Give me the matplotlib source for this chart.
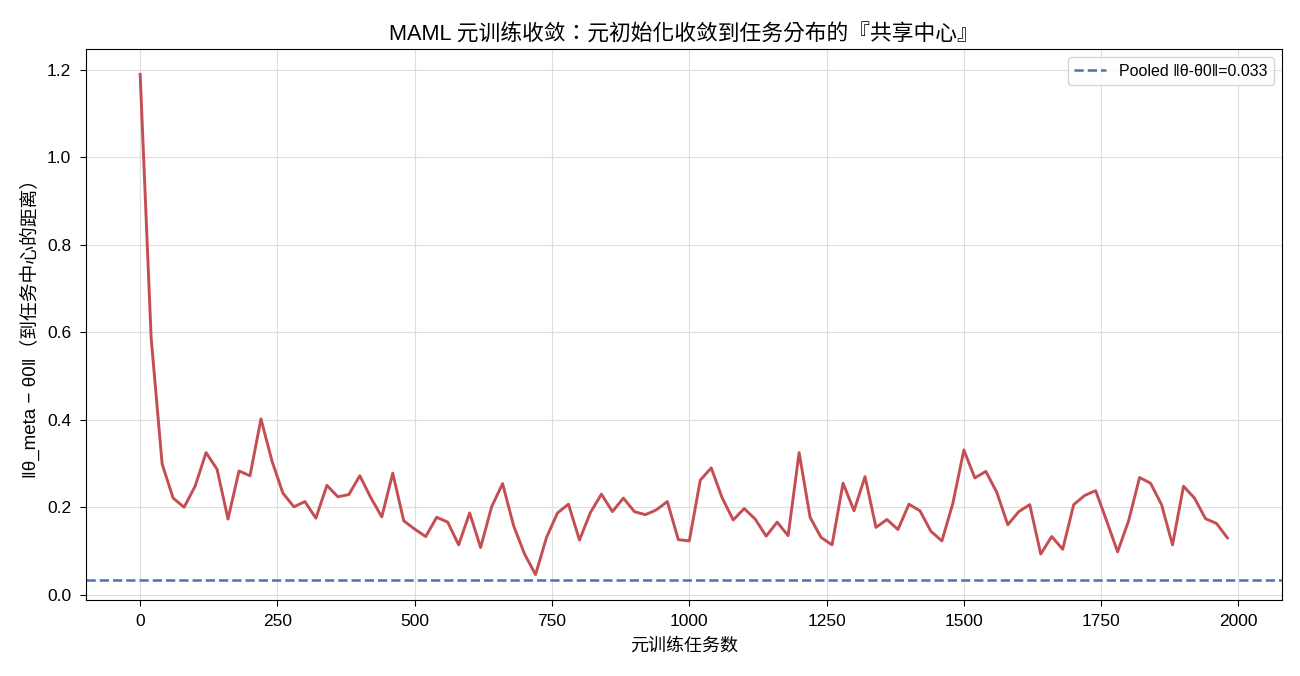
import numpy as np
import matplotlib.pyplot as plt

plt.rcParams['font.family'] = ['Liberation Sans', 'Noto Sans CJK TC', 'DejaVu Sans']
plt.rcParams['axes.unicode_minus'] = False

# meta-training task counts (every 20 tasks)
tasks = np.arange(0, 2000, 20)

# distance of meta init to task center
dist = [
    1.19, 0.587, 0.299, 0.221, 0.200, 0.248, 0.325, 0.287, 0.173, 0.283,
    0.272, 0.402, 0.306, 0.232, 0.201, 0.213, 0.175, 0.250, 0.224, 0.229,
    0.272, 0.222, 0.178, 0.278, 0.169, 0.150, 0.133, 0.177, 0.166, 0.114,
    0.187, 0.108, 0.201, 0.254, 0.158, 0.093, 0.046, 0.131, 0.187, 0.207,
    0.125, 0.188, 0.230, 0.190, 0.221, 0.190, 0.183, 0.194, 0.213, 0.126,
    0.123, 0.262, 0.290, 0.221, 0.171, 0.197, 0.173, 0.134, 0.166, 0.135,
    0.325, 0.177, 0.131, 0.114, 0.255, 0.192, 0.270, 0.154, 0.172, 0.149,
    0.207, 0.192, 0.145, 0.123, 0.209, 0.331, 0.267, 0.282, 0.234, 0.160,
    0.190, 0.206, 0.093, 0.133, 0.104, 0.206, 0.227, 0.238, 0.169, 0.098,
    0.169, 0.268, 0.255, 0.206, 0.114, 0.248, 0.221, 0.174, 0.163, 0.130,
]
pooled = 0.033

fig, ax = plt.subplots(figsize=(13, 6.76), dpi=100)
ax.plot(tasks, dist, color='#c44e52', linewidth=2.1)
ax.axhline(pooled, color='#4c72b0', linestyle='--', linewidth=1.8,
           label=f'Pooled ‖θ-θ0‖={pooled:.3f}')
ax.grid(True, color='#dddddd', linewidth=0.8)
ax.set_axisbelow(True)
ax.set_title('MAML 元训练收敛：元初始化收敛到任务分布的『共享中心』', fontsize=15.7, pad=6.5)
ax.set_xlabel('元训练任务数', fontsize=13, labelpad=6)
ax.set_ylabel('‖θ_meta − θ0‖（到任务中心的距离）', fontsize=13.5, labelpad=5)
ax.tick_params(labelsize=12.5, length=4.5, pad=6)
ax.legend(loc='upper right', fontsize=11.5)
plt.subplots_adjust(left=0.066, right=0.986, top=0.927, bottom=0.113)
plt.savefig('out.png')
